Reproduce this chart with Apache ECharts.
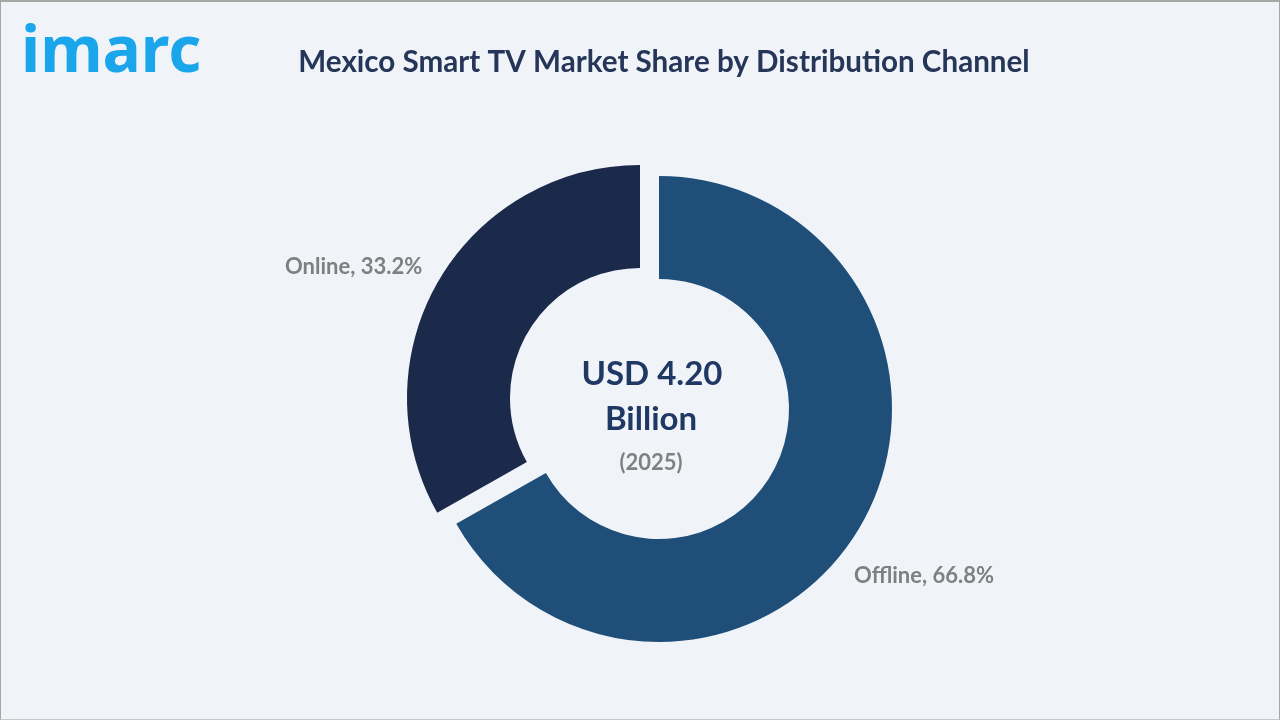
<!DOCTYPE html>
<html>
<head>
<meta charset="utf-8">
<script src="https://cdn.jsdelivr.net/npm/echarts@6/dist/echarts.min.js"></script>
<style>
  html, body { margin: 0; padding: 0; background: #f0f4f9; }
  #wrap { position: absolute; left: 0; top: 0; width: 1280px; height: 720px; box-sizing: border-box;
          border-top: 2px solid #a6a6a6; border-left: 1px solid #a6a6a6; border-right: 1px solid #a6a6a6; border-bottom: 1px solid #c8c8c8; }
  #chart { width: 100%; height: 100%; }
</style>
</head>
<body>
<div id="wrap"><div id="chart"></div></div>
<script>
const categories = ['Offline', 'Online'];
const shares = [66.8, 33.2];
const colors = ['#1f4e79', '#1b2a4a'];
const titleText = 'Mexico Smart TV Market Share by Distribution Channel';
const centerValue = 'USD 4.20';
const centerUnit = 'Billion';
const centerYear = '(2025)';

const FONT = 'Lato, "Open Sans", sans-serif';
const chart = echarts.init(document.getElementById('chart'), null, { renderer: 'canvas' });

const labelPos = { Offline: [853, 574], Online: [284, 265] };

const sliceLabels = categories.map((c, i) => ({
  type: 'text', x: labelPos[c][0], y: labelPos[c][1],
  style: { text: c + ', ' + shares[i].toFixed(1) + '%', fontFamily: FONT, fontSize: 22, fontWeight: 'bold',
           fill: '#7f7f7f', align: 'left', verticalAlign: 'middle' }
}));

chart.setOption({
  backgroundColor: '#f0f4f9',
  animation: false,
  graphic: [
    { type: 'text', x: 663, y: 60,
      style: { text: titleText, fontFamily: FONT, fontSize: 29.6, fontWeight: 'bold', fill: '#263659', align: 'center', verticalAlign: 'middle' } },
    { type: 'text', left: 20, top: 20,
      style: { text: 'imarc', fontFamily: '"Noto Sans", sans-serif', fontSize: 64, fontWeight: 'bold', fill: '#1ba6ec' } },
    { type: 'text', x: 651, y: 372,
      style: { text: centerValue, fontFamily: FONT, fontSize: 33, fontWeight: 'bold', fill: '#1f3864', align: 'center', verticalAlign: 'middle' } },
    { type: 'text', x: 650, y: 417,
      style: { text: centerUnit, fontFamily: FONT, fontSize: 33, fontWeight: 'bold', fill: '#1f3864', align: 'center', verticalAlign: 'middle' } },
    { type: 'text', x: 650, y: 461,
      style: { text: centerYear, fontFamily: FONT, fontSize: 22, fontWeight: 'bold', fill: '#808080', align: 'center', verticalAlign: 'middle' } }
  ].concat(sliceLabels),
  series: [{
    type: 'pie',
    center: [658, 407],
    radius: [130, 233],
    startAngle: 90,
    clockwise: true,
    selectedMode: 'single',
    selectedOffset: 22,
    emphasis: { disabled: true },
    itemStyle: { borderWidth: 0 },
    label: { show: false },
    labelLine: { show: false },
    data: categories.map((c, i) => ({
      name: c, value: shares[i], selected: c === 'Online',
      itemStyle: { color: colors[i] }
    }))
  }]
});
</script>
</body>
</html>
